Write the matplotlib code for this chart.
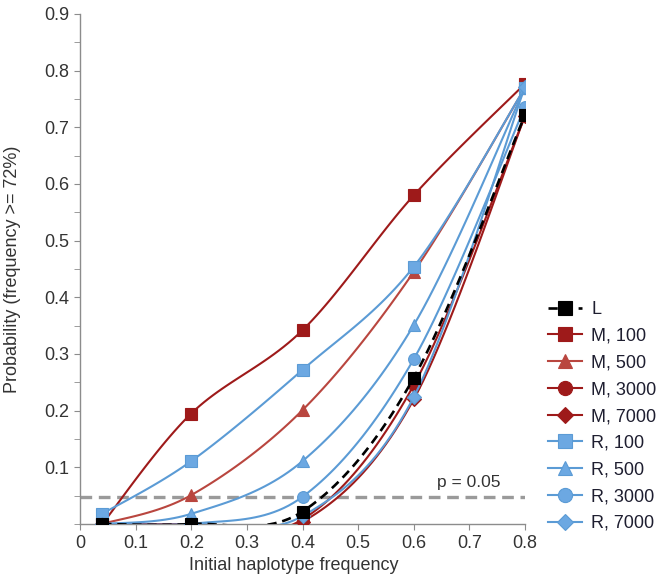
import numpy as np
import matplotlib
matplotlib.use("Agg")
import matplotlib.pyplot as plt

plt.rcParams['font.family'] = ['Liberation Sans', 'DejaVu Sans']

# --- data ---
x_freq = [0.04, 0.2, 0.4, 0.6, 0.8]

series_names = ['M, 100', 'M, 500', 'M, 3000', 'M, 7000',
                'R, 100', 'R, 500', 'R, 3000', 'R, 7000', 'L']

m_100 = [0.0, 0.195, 0.342, 0.58, 0.777]
m_500 = [0.0, 0.051, 0.201, 0.445, 0.77]
m_3000 = [0.0, 0.0, 0.008, 0.245, 0.72]
m_7000 = [0.0, 0.0, 0.004, 0.22, 0.72]
r_100 = [0.018, 0.111, 0.272, 0.454, 0.77]
r_500 = [0.0, 0.018, 0.111, 0.351, 0.77]
r_3000 = [0.0, 0.0, 0.048, 0.291, 0.736]
r_7000 = [0.0, 0.0, 0.014, 0.224, 0.772]
l_vals = [0.0, 0.0, 0.022, 0.258, 0.722]

p_line = 0.047
p_text = 'p = 0.05'

# legend order as in the picture
legend_order = ['L', 'M, 100', 'M, 500', 'M, 3000', 'M, 7000',
                'R, 100', 'R, 500', 'R, 3000', 'R, 7000']

DARK_RED = '#9E1A1A'
SOFT_RED = '#B9463F'
BLUE = '#5B9BD5'
BLUE_FILL = '#6CA8E2'


def smooth(xs, ys, n=25):
    """Excel-like smoothed line: cubic bezier through the points."""
    px = np.array(xs, dtype=float)
    py = np.array(ys, dtype=float)
    cx, cy = [px[0]], [py[0]]
    last = len(px) - 1
    t = np.linspace(0, 1, n)[1:]
    for i in range(last):
        a, b = max(i - 1, 0), min(i + 2, last)
        x1, y1 = px[i] + (px[i + 1] - px[a]) / 6, py[i] + (py[i + 1] - py[a]) / 6
        x2, y2 = px[i + 1] - (px[b] - px[i]) / 6, py[i + 1] - (py[b] - py[i]) / 6
        bx = ((1 - t) ** 3 * px[i] + 3 * (1 - t) ** 2 * t * x1
              + 3 * (1 - t) * t ** 2 * x2 + t ** 3 * px[i + 1])
        by = ((1 - t) ** 3 * py[i] + 3 * (1 - t) ** 2 * t * y1
              + 3 * (1 - t) * t ** 2 * y2 + t ** 3 * py[i + 1])
        cx.extend(bx)
        cy.extend(by)
    marks = list(range(0, len(cx), n - 1))
    return np.array(cx), np.array(cy), marks


styles = {
    'M, 100': dict(values=m_100, color=DARK_RED, mfc=DARK_RED, mec=DARK_RED, marker='s', ms=8.5),
    'M, 500': dict(values=m_500, color=SOFT_RED, mfc=SOFT_RED, mec=SOFT_RED, marker='^', ms=8.5),
    'M, 3000': dict(values=m_3000, color=DARK_RED, mfc=DARK_RED, mec=DARK_RED, marker='o', ms=8.5),
    'M, 7000': dict(values=m_7000, color=DARK_RED, mfc=DARK_RED, mec=DARK_RED, marker='D', ms=7),
    'R, 100': dict(values=r_100, color=BLUE, mfc=BLUE_FILL, mec=BLUE, marker='s', ms=8.5),
    'R, 500': dict(values=r_500, color=BLUE, mfc=BLUE_FILL, mec=BLUE, marker='^', ms=8.5),
    'R, 3000': dict(values=r_3000, color=BLUE, mfc=BLUE_FILL, mec=BLUE, marker='o', ms=8.5),
    'R, 7000': dict(values=r_7000, color=BLUE, mfc=BLUE_FILL, mec=BLUE, marker='D', ms=7),
    'L': dict(values=l_vals, color='black', mfc='black', mec='black', marker='s', ms=8.5),
}

fig = plt.figure(figsize=(6.64, 5.83), dpi=100)
ax = fig.add_axes([80 / 664, 1 - 524 / 583, 445 / 664, 510 / 583])

handles = {}
for z, name in enumerate(series_names):
    s = styles[name]
    cx, cy, marks = smooth(x_freq, s['values'])
    ls = (0, (3.5, 2.2)) if name == 'L' else '-'
    lw = 1.9 if name == 'L' else 1.5
    line, = ax.plot(cx, cy, color=s['color'], lw=lw, linestyle=ls,
                    marker=s['marker'], markevery=marks, ms=s['ms'],
                    mfc=s['mfc'], mec=s['mec'], mew=0.8, zorder=3 + z * 0.1)
    handles[name] = line

# p = 0.05 reference line
ax.axhline(p_line, xmin=0, xmax=1, color='#9A9A9A', lw=2.4,
           linestyle=(0, (3.5, 2)), zorder=2)
ax.text(0.642, p_line + 0.027, p_text, fontsize=12.5, color='#333333',
        ha='left', va='center')

ax.set_xlim(0, 0.8)
ax.set_ylim(0, 0.9)
ax.set_xticks(np.arange(0, 0.81, 0.1))
ax.set_xticklabels(['0', '0.1', '0.2', '0.3', '0.4', '0.5', '0.6', '0.7', '0.8'])
ax.set_yticks(np.arange(0.1, 0.91, 0.1))
ax.set_yticklabels(['0.1', '0.2', '0.3', '0.4', '0.5', '0.6', '0.7', '0.8', '0.9'])
ax.set_yticks(np.arange(0, 0.91, 0.05), minor=True)

for side in ['top', 'right']:
    ax.spines[side].set_visible(False)
for side in ['left', 'bottom']:
    ax.spines[side].set_color('#8C8C8C')
    ax.spines[side].set_linewidth(1.0)

ax.tick_params(axis='both', which='both', direction='out', length=4,
               color='#8C8C8C', labelsize=13, labelcolor='#333333', pad=4)

ax.set_xlabel('Initial haplotype frequency', fontsize=13, color='#333333')
ax.xaxis.set_label_coords(0.48, -0.064)
ax.set_ylabel('Probability (frequency >= 72%)', fontsize=13, color='#333333')
ax.yaxis.set_label_coords(-0.133, 0.5)

leg = fig.legend([handles[n] for n in legend_order], legend_order,
                 loc='upper left', bbox_to_anchor=(548 / 664, 1 - 301 / 583),
                 frameon=False, fontsize=13, handlelength=1.9, handletextpad=0.5,
                 labelspacing=0.54, borderpad=0, borderaxespad=0, markerscale=1.2)
for t in leg.get_texts():
    t.set_color('#1E1E30')

fig.savefig('out.png', dpi=100)
